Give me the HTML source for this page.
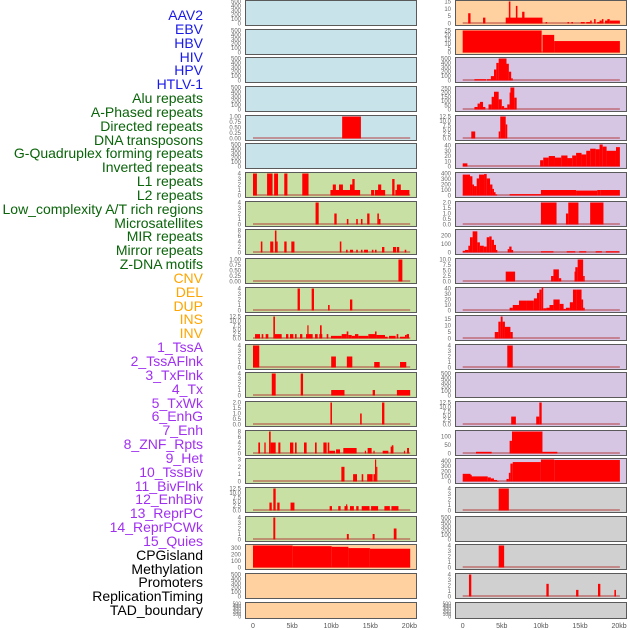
<!DOCTYPE html>
<html><head><meta charset="utf-8">
<style>
body{margin:0;background:#fff;width:630px;height:630px;overflow:hidden;font-family:"Liberation Sans",sans-serif;}
#labels div{position:absolute;right:427px;font-size:14px;line-height:14px;white-space:nowrap;}
</style></head>
<body>
<div id="labels"></div>
<svg id="chart" width="630" height="630" style="position:absolute;left:0;top:0"></svg>
<script>
const trackNames=["AAV2","EBV","HBV","HIV","HPV","HTLV-1","Alu repeats","A-Phased repeats","Directed repeats","DNA transposons","G-Quadruplex forming repeats","Inverted repeats","L1 repeats","L2 repeats","Low_complexity A/T rich regions","Microsatellites","MIR repeats","Mirror repeats","Z-DNA motifs","CNV","DEL","DUP","INS","INV","1_TssA","2_TssAFlnk","3_TxFlnk","4_Tx","5_TxWk","6_EnhG","7_Enh","8_ZNF_Rpts","9_Het","10_TssBiv","11_BivFlnk","12_EnhBiv","13_ReprPC","14_ReprPCWk","15_Quies","CPGisland","Methylation","Promoters","ReplicationTiming","TAD_boundary"];
const trackColors=["#1a1ae6","#1a1ae6","#1a1ae6","#1a1ae6","#1a1ae6","#1a1ae6","#0a640a","#0a640a","#0a640a","#0a640a","#0a640a","#0a640a","#0a640a","#0a640a","#0a640a","#0a640a","#0a640a","#0a640a","#0a640a","#ffa500","#ffa500","#ffa500","#ffa500","#ffa500","#a030f0","#a030f0","#a030f0","#a030f0","#a030f0","#a030f0","#a030f0","#a030f0","#a030f0","#a030f0","#a030f0","#a030f0","#a030f0","#a030f0","#a030f0","#000","#000","#000","#000","#000"];
const xTicks=[0,5,10,15,20];
const xTickLabels=["0","5kb","10kb","15kb","20kb"];
const leftYTicks=[[0,100,200,300,400,500],[0,100,200,300,400,500],[0,100,200,300,400,500],[0,100,200,300,400,500],[0,0.25,0.5,0.75,1],[0,100,200,300,400,500],[0,1,2,3,4],[0,1,2,3,4],[0,2,4,6,8],[0,0.25,0.5,0.75,1],[0,1,2,3,4],[0,2.5,5,7.5,10,12.5],[0,1,2,3,4],[0,1,2,3,4],[0,0.5,1,1.5,2],[0,2,4,6,8],[0,1,2,3],[0,2.5,5,7.5,10,12.5],[0,1,2,3,4],[0,100,200,300],[0,100,200,300,400,500],[0,100,200,300,400,500]];
const rightYTicks=[[0,5,10,15],[0,5,10,15,20,25],[0,100,200,300,400,500],[0,50,100,150,200,250],[0,2.5,5,7.5,10,12.5],[0,10,20,30,40],[0,100,200,300,400],[0,0.5,1,1.5,2],[0,100,200],[0,2.5,5,7.5,10],[0,10,20,30,40],[0,5,10,15],[0,1,2,3,4],[0,100,200,300,400,500],[0,2.5,5,7.5,10,12.5],[0,50,100],[0,100,200,300,400],[0,1,2,3,4],[0,100,200,300,400,500],[0,1,2,3,4],[0,1,2,3,4],[0,100,200,300,400,500]];
const leftYMax=[500,500,500,500,1,500,4,4,8,1,4,12.5,4,4,2,8,3,12.5,4,340,500,500];
const rightYMax=[15,25,500,260,12.5,42,400,2,260,10,40,17,4,500,12.5,130,430,4,500,4,4,500];
const leftBg=["#c9e3eb","#c9e3eb","#c9e3eb","#c9e3eb","#c9e3eb","#c9e3eb","#c8e0a4","#c8e0a4","#c8e0a4","#c8e0a4","#c8e0a4","#c8e0a4","#c8e0a4","#c8e0a4","#c8e0a4","#c8e0a4","#c8e0a4","#c8e0a4","#c8e0a4","#ffd0a0","#ffd0a0","#ffd0a0"];
const rightBg=["#ffd0a0","#ffd0a0","#d6c6e4","#d6c6e4","#d6c6e4","#d6c6e4","#d6c6e4","#d6c6e4","#d6c6e4","#d6c6e4","#d6c6e4","#d6c6e4","#d6c6e4","#d6c6e4","#d6c6e4","#d6c6e4","#d6c6e4","#d0d0d0","#d0d0d0","#d0d0d0","#d0d0d0","#d0d0d0"];
// segments: [startKb, endKb, value]
const leftSegs=[
[],[],[],[],
[[11.4,13.8,1]],
[],
[[0,0.5,4],[1.8,2.5,4],[2.7,3.2,4],[4,4.4,4],[6.3,7.1,4],[9.9,13.7,1],[10.2,10.6,2],[11,11.5,2],[12.4,12.8,2],[12.7,13,3],[15.1,15.5,1],[15.6,16.9,1],[16,16.4,2],[17.8,18.1,3],[18.2,20,1],[18.4,18.9,2]],
[[8,8.4,4],[10.4,10.7,2],[12,12.2,1],[13.2,13.4,1],[13.8,14,1],[14.6,14.9,2],[15.9,16.1,2],[16.1,16.3,1]],
[[1,1.2,4],[2.2,2.6,4],[2.8,3,8],[3,3.1,4],[4,4.3,4],[4.9,5.3,4],[11.1,11.3,4],[11.9,12.1,1],[12.4,12.8,1],[13.2,13.4,1],[13.8,14,1],[14.2,14.7,1],[15.2,15.4,1],[15.6,15.8,1],[16.5,16.8,2],[17.9,18.3,2],[18.4,18.7,2],[19.4,19.6,1]],
[[18.6,19.1,1]],
[[5.7,6,4],[7.5,7.8,4],[9.6,9.8,1],[12.4,12.7,2]],
[[0.26,0.9,2.5],[1.11,1.32,2.5],[1.62,1.96,2.5],[2.6,2.81,12.5],[2.81,3.67,2.5],[4.22,4.52,2.5],[4.73,5.16,2.5],[5.37,5.58,2.5],[6.01,6.31,2.5],[6.78,7.63,2.5],[6.95,7.08,7.5],[7.93,8.27,2.5],[8.48,8.86,2.5],[8.57,8.78,7.5],[9.42,9.63,2.5],[9.97,11.34,1.5],[11.34,11.98,2.5],[11.98,12.19,4],[12.19,12.62,2],[12.62,13.04,1.5],[13.04,13.47,2.5],[13.47,14.75,1.5],[14.75,15.6,2.5],[15.6,15.8,4],[15.8,16.88,2],[16.88,17.22,1],[17.39,18.24,1.5],[18.37,18.58,2.5],[18.8,19.44,1],[19.44,19.65,2],[19.65,19.95,2.5]],
[[0,0.8,4],[10,10.6,2],[12,12.7,2],[15.5,16.2,1],[18.8,19.6,1]],
[[2.4,2.9,4],[6.1,6.4,4],[10,11.7,1],[15.3,15.6,1],[18.4,20.1,1]],
[[9.9,10.1,2],[13.7,13.9,1],[16.5,16.8,2]],
[[0.68,0.9,4],[1.45,1.62,4],[2.05,2.26,8],[2.26,2.9,4],[3.24,3.5,4],[4.73,5.16,4],[5.37,5.58,4],[6.52,6.86,4],[7.93,8.14,4],[9,9.42,4],[9.55,9.76,4],[9.76,10.49,1],[10.62,11.13,1.5],[11.55,13.25,2],[14.3,14.4,1],[14.66,15.17,2],[15.4,15.55,1],[16.58,17.31,1],[17.6,17.95,2.5],[17.75,17.95,3],[19.3,19.45,1],[19.7,19.95,2]],
[[11.3,11.7,2],[12.8,13.3,1],[13.9,14.1,1],[14.6,15.3,1],[15.4,15.6,1],[15.6,15.75,3],[15.75,15.9,2]],
[[2.1,2.4,4.5],[2.6,2.9,12.5],[3.1,3.4,4.5],[4.8,5.3,4.5],[9.8,10.1,2.5],[10.9,11.2,2.5],[11.7,12.1,2.5],[11.9,12,3.5],[12.4,12.9,2.5],[13.2,13.5,2.5],[13.9,14.9,2.5],[15.1,16,2.5],[16.8,17.5,2.5],[17.7,18.6,2.5]],
[[2.6,2.85,4],[12,12.25,1],[15.3,15.55,1],[18,18.35,2]],
[[0,5.07,340],[5.07,10.06,330],[10.06,12.2,320],[12.2,14.95,300],[14.95,20.1,290]],
[],[]];
const rightSegs=[
[[0.7,1,7],[2.6,2.9,4],[5.5,10.2,4],[5.9,6.1,15],[6.8,7,12],[7.6,7.9,8],[10.6,10.8,1],[13.4,13.6,1],[13.9,14.1,1],[15.1,15.6,1],[15.8,16.3,1],[16.3,16.5,2],[16.8,17,3],[17.2,17.5,1],[17.5,17.8,2],[17.8,18,3],[18.2,18.6,2],[18.5,18.8,3],[18.8,20.1,2]],
[[0,10.1,25],[10.2,11.7,20],[11.7,20.1,13]],
[[1.5,3,30],[3.1,3.6,30],[3.6,4,100],[4,4.3,250],[4.3,4.6,400],[4.6,5.6,500],[5.6,5.9,380],[5.9,6.2,200],[6.2,6.4,50]],
[[1.5,1.9,30],[1.9,2.2,70],[2.2,2.6,90],[2.6,2.9,30],[3.3,3.7,60],[3.7,4,150],[4,4.6,210],[4.6,5,120],[5,5.3,40],[5.3,5.7,20],[5.7,6,60],[6,6.1,200],[6.1,6.6,260],[6.6,6.9,140]],
[[1.1,1.6,4],[4.6,4.8,4],[4.8,5.5,12.5],[5.5,5.7,8]],
[[0,0.6,6],[9.9,10.3,12],[10.3,11,17],[11,11.8,20],[11.8,12.6,17],[12.6,13.4,21],[13.4,14,16],[14,14.5,21],[14.5,15.2,26],[15.2,15.8,23],[15.8,16.3,30],[16.3,17,34],[17,17.5,33],[17.5,17.9,42],[17.9,18.4,38],[18.4,19.6,30],[19.6,20.1,37]],
[[0,0.94,380],[0.94,1.24,350],[1.24,1.45,200],[1.45,1.79,170],[1.79,2.09,310],[2.09,2.73,380],[2.73,3.07,390],[3.07,3.5,310],[3.5,3.8,200],[3.8,4,120],[4,4.2,60],[4.2,4.4,20],[6,10,25],[10,14.5,100],[14.5,17.2,90],[17.2,17.6,100],[17.6,20.1,100]],
[[10,12,2],[13.2,13.5,1],[13.5,14.8,2],[16.3,18,2]],
[[0,0.3,20],[0.3,0.72,30],[0.72,0.93,80],[0.93,1.27,180],[1.27,1.87,250],[1.87,2.2,120],[2.2,2.7,80],[2.7,3.07,70],[3.07,3.4,180],[3.4,3.7,190],[3.7,4,150],[4,4.26,90],[4.26,4.43,30],[5.75,5.95,40],[5.95,6.25,70],[6.25,6.45,30],[10,11.6,15],[13.3,14.4,15],[14.9,15.8,15],[17,17.8,15],[18.3,20,15]],
[[5.5,6.7,4.5],[11.3,11.6,2.5],[11.6,12.3,5.5],[12.3,12.6,1.5],[14.3,14.4,4.5],[14.4,14.7,6.5],[14.7,15.4,10],[15.4,15.6,2.5]],
[[6,6.4,5],[6.4,7.2,10],[7.2,8.1,18],[8.1,9.1,18],[9.1,9.5,22],[9.5,9.8,32],[9.8,10.1,38],[10.1,10.3,42],[10.3,10.7,4],[10.7,11.1,5],[11.1,11.6,10],[11.6,12.4,20],[12.4,12.9,12],[12.9,13.2,3],[13.2,13.7,5],[13.7,14.1,15],[14.1,14.6,38],[14.6,15.2,38],[15.2,15.4,20],[15.4,15.6,5]],
[[4.1,4.56,5],[4.56,4.86,13],[4.86,5.1,17],[5.1,5.4,13],[5.4,6.1,9],[6.1,6.4,5]],
[[5.7,6.4,4]],
[],
[[6.2,6.8,4.5],[9.4,9.8,4.5],[9.8,10.1,12.5]],
[[1.7,3.7,10],[6,6.3,75],[6.3,10.2,130],[10.2,12.1,10]],
[[0,1,150],[1,1.1,130],[1.1,3.2,100],[3.2,3.6,80],[3.6,4,60],[4,4.4,30],[4.4,4.6,10],[5.6,5.9,50],[5.9,6.1,170],[6.1,6.4,350],[6.4,10,380],[10,11.7,430],[11.7,20.1,420]],
[[4.6,5.9,4]],
[],
[[4.6,5.3,4]],
[[0.8,1.1,4],[10.7,11,2.3],[14.5,14.8,1.2],[17.3,17.6,2.3],[19.4,19.6,1.2]],
[]];

const svg=document.getElementById('chart');
const NS='http://www.w3.org/2000/svg';
const rowTops=[];for(let i=0;i<22;i++)rowTops.push(Math.round(i*28.65));
const rowH=i=>i===21?16:25;
const cols=[{x:245,w:171,x0:253,segs:leftSegs,ticks:leftYTicks,ymax:leftYMax,bg:leftBg,name:'left'},
            {x:455,w:171,x0:462.7,segs:rightSegs,ticks:rightYTicks,ymax:rightYMax,bg:rightBg,name:'right'}];
const KB=7.82;
function mk(tag,attrs){const e=document.createElementNS(NS,tag);for(const k in attrs)e.setAttribute(k,attrs[k]);svg.appendChild(e);return e;}
function fmt(v,ticks){const dec=ticks.some(t=>t%1!==0);if(!dec)return String(v);const d=ticks.some(t=>(t*10)%1!==0)?2:1;return v.toFixed(d);}
cols.forEach(c=>{
  const xs=kb=>c.x0+kb*KB;
  for(let i=0;i<22;i++){
    const top=rowTops[i],h=rowH(i);
    const yb=top+h-1.5,yt=top+1.5;
    const ys=v=>yb-(v/c.ymax[i])*(yb-yt);
    const bg=mk('rect',{x:c.x+0.5,y:top+0.5,width:c.w,height:h,fill:c.bg[i],stroke:'#5a5a5a','stroke-width':1});
    
    
    c.ticks[i].forEach(t=>{
      const tx=mk('text',{x:c.x-4,y:ys(t)+2,'font-size':i===21?5:6,fill:'#666','text-anchor':'end'});
      tx.textContent=fmt(t,c.ticks[i]);
      
      
    });
    const segs=c.segs[i];
    if(segs.length){
      const bl=mk('line',{x1:xs(0),x2:xs(20.1),y1:yb-0.5,y2:yb-0.5,stroke:'#b03030','stroke-opacity':0.6,'stroke-width':1.5});
      
      
    }
    segs.forEach(s=>{
      const r=mk('rect',{x:xs(s[0]),y:ys(s[2]),width:Math.max(1.2,xs(s[1])-xs(s[0])),height:yb-ys(s[2]),fill:'#ff0000'});
      
      
    });
  }
  xTicks.forEach((t,j)=>{
    const tx=mk('text',{x:xs(t),y:628,'font-size':7,fill:'#555','text-anchor':'middle'});
    tx.textContent=xTickLabels[j];
    
    
  });
});
const lab=document.getElementById('labels');
trackNames.forEach((n,i)=>{
  const d=document.createElement('div');
  d.textContent=n;
  d.style.top=(8+i*13.84)+'px';
  d.style.color=trackColors[i];
  
  
  lab.appendChild(d);
});
</script>
</body></html>
